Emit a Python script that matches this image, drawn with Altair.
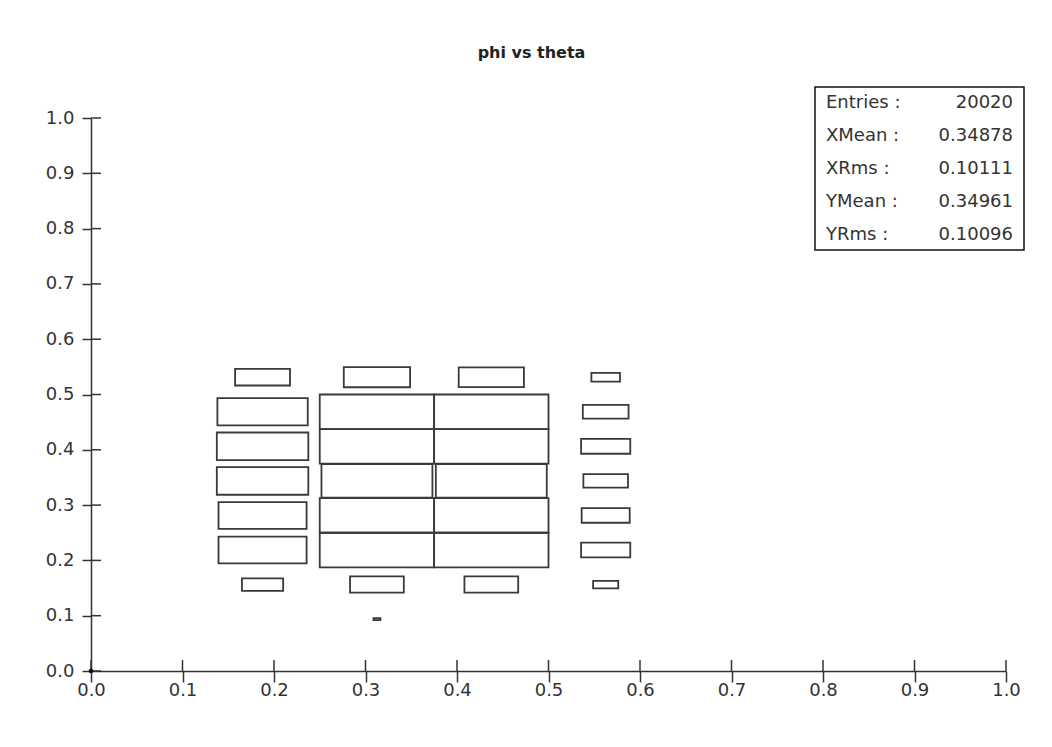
import altair as alt
import pandas as pd

# ---- data (2D histogram drawn as boxes) ----
theta_centers = [0.1875, 0.3125, 0.4375, 0.5625]          # x bin centres
phi_centers = [0.09375, 0.15625, 0.21875, 0.28125,
               0.34375, 0.40625, 0.46875, 0.53125]         # y bin centres
THETA_BIN = 0.125
PHI_BIN = 0.0625
# relative bin content (1.0 = fullest bin); rows follow phi_centers, columns theta_centers
content_r0 = [0.00, 0.06, 0.00, 0.00]
content_r1 = [0.36, 0.47, 0.47, 0.22]
content_r2 = [0.77, 1.00, 1.00, 0.43]
content_r3 = [0.77, 1.00, 1.00, 0.42]
content_r4 = [0.80, 0.97, 0.97, 0.39]
content_r5 = [0.80, 1.00, 1.00, 0.43]
content_r6 = [0.79, 1.00, 1.00, 0.40]
content_r7 = [0.48, 0.58, 0.57, 0.25]
content = [content_r0, content_r1, content_r2, content_r3,
           content_r4, content_r5, content_r6, content_r7]

tick_values = [0.0, 0.1, 0.2, 0.3, 0.4, 0.5, 0.6, 0.7, 0.8, 0.9, 1.0]

stats_labels = ["Entries :", "XMean :", "XRms :", "YMean :", "YRms :"]
stats_values = ["20020", "0.34878", "0.10111", "0.34961", "0.10096"]

title_text = "phi vs theta"

# ---- tables ----
rows = []
for i, p in enumerate(phi_centers):
    for j, t in enumerate(theta_centers):
        c = content[i][j]
        if c > 0:
            rows.append({
                "theta": t, "phi": p, "c": c,
                "x1": t - THETA_BIN / 2 * c, "x2": t + THETA_BIN / 2 * c,
                "y1": p - PHI_BIN / 2 * c, "y2": p + PHI_BIN / 2 * c,
            })
boxes_df = pd.DataFrame(rows)
ticks_df = pd.DataFrame({"t": tick_values})
origin_df = pd.DataFrame({"x": [0.0], "y": [0.0]})
stats_df = pd.DataFrame({"label": stats_labels, "value": stats_values,
                         "idx": list(range(len(stats_labels)))})

W, H = 915, 553
INK = "#333333"
LABEL_FONT = "DejaVu Sans"

xscale = alt.Scale(domain=[0, 1], nice=False, zero=False)
yscale = alt.Scale(domain=[0, 1], nice=False, zero=False)

xaxis = alt.Axis(values=tick_values, format=".1f", title=None, grid=False,
                 tickSize=11, tickWidth=1.5, tickColor=INK,
                 domainColor=INK, domainWidth=1.5,
                 labelFont=LABEL_FONT, labelFontSize=18, labelColor=INK,
                 labelPadding=-1, labelFlush=False, labelOverlap=False)
yaxis = alt.Axis(values=tick_values, format=".1f", title=None, grid=False,
                 tickSize=9, tickWidth=1.5, tickColor=INK,
                 domainColor=INK, domainWidth=1.5,
                 labelFont=LABEL_FONT, labelFontSize=18, labelColor=INK,
                 labelPadding=8, labelFlush=False, labelOverlap=False)

boxes = alt.Chart(boxes_df).mark_rect(
    fill="transparent", stroke="#3a3a3a", strokeWidth=1.8
).encode(
    x=alt.X("x1:Q", scale=xscale, axis=xaxis),
    x2="x2:Q",
    y=alt.Y("y1:Q", scale=yscale, axis=yaxis),
    y2="y2:Q",
)

x_in = alt.Chart(ticks_df).mark_rule(stroke=INK, strokeWidth=1.5).encode(
    x=alt.X("t:Q", scale=xscale, axis=xaxis),
    y=alt.value(H - 11), y2=alt.value(H),
)
y_in = alt.Chart(ticks_df).mark_rule(stroke=INK, strokeWidth=1.5).encode(
    y=alt.Y("t:Q", scale=yscale, axis=yaxis),
    x=alt.value(0), x2=alt.value(10),
)
origin = alt.Chart(origin_df).mark_point(filled=True, size=22, color="#111111", opacity=1).encode(
    x=alt.X("x:Q", scale=xscale, axis=xaxis),
    y=alt.Y("y:Q", scale=yscale, axis=yaxis),
)

main = alt.layer(boxes, x_in, y_in, origin)

stats_box = alt.Chart(origin_df).mark_rect(
    fill="white", stroke="#111111", strokeWidth=1.5
).encode(
    x=alt.value(724), x2=alt.value(933), y=alt.value(-31), y2=alt.value(132)
)
stats_lab = alt.Chart(stats_df).mark_text(
    align="left", baseline="middle", font=LABEL_FONT, fontSize=18, color=INK
).transform_calculate(py="datum.idx * 33 - 15").encode(
    x=alt.value(735), y=alt.Y("py:Q", scale=None, axis=None), text="label:N"
)
stats_val = alt.Chart(stats_df).mark_text(
    align="right", baseline="middle", font=LABEL_FONT, fontSize=18, color=INK
).transform_calculate(py="datum.idx * 33 - 15").encode(
    x=alt.value(922), y=alt.Y("py:Q", scale=None, axis=None), text="value:N"
)
stats = alt.layer(stats_box, stats_lab, stats_val)

chart = alt.layer(main, stats).resolve_scale(
    y="independent"
).resolve_axis(y="independent").properties(
    width=W, height=H,
    title=alt.TitleParams(title_text, font="DejaVu Sans", fontSize=16,
                          fontWeight="bold", color="#222222", anchor="middle",
                          dx=-17, offset=25),
    padding={"left": 83, "top": 110, "right": 30, "bottom": 60},
    autosize=alt.AutoSizeParams(type="none"),
).configure_view(strokeWidth=0)

chart.save("out.html", embed_options={"renderer": "svg", "actions": False})
